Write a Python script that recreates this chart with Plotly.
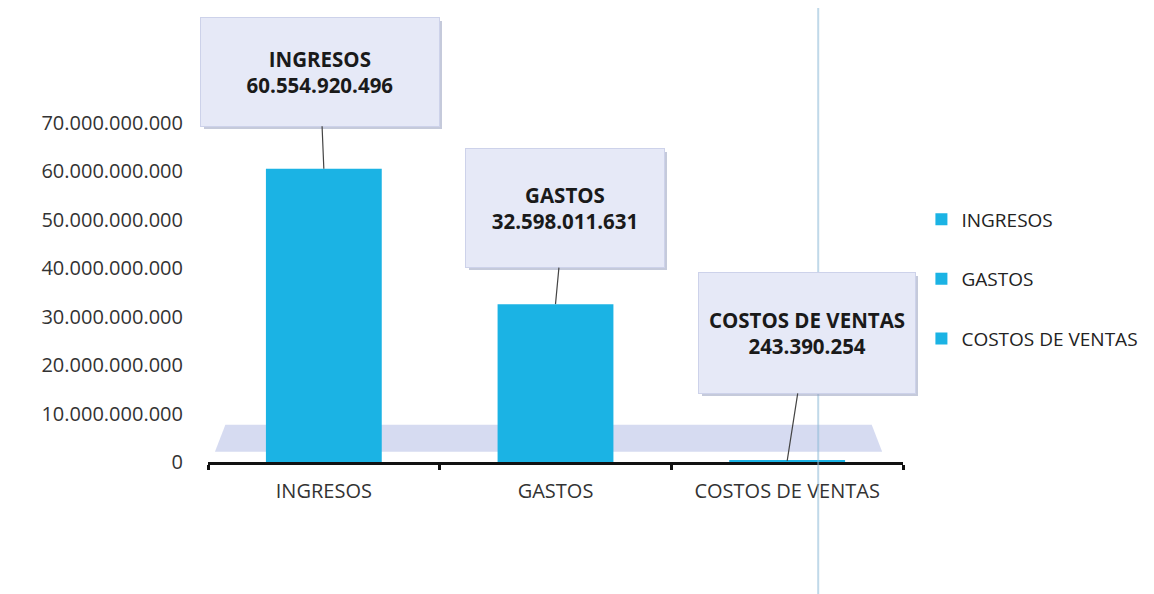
import plotly.graph_objects as go

categories = ["INGRESOS", "GASTOS", "COSTOS DE VENTAS"]
values = [60554920496, 32598011631, 243390254]
value_labels = ["60.554.920.496", "32.598.011.631", "243.390.254"]
y_ticks = [0, 10e9, 20e9, 30e9, 40e9, 50e9, 60e9, 70e9]

BAR = "#1BB3E4"
FONT = "Open Sans"

fig = go.Figure()
for i, (c, v) in enumerate(zip(categories, values)):
    fig.add_trace(go.Bar(
        x=[c], y=[v], name=c, marker=dict(color=BAR, line=dict(width=0)),
        width=0.5, legendgroup=c, showlegend=True, hoverinfo="x+y",
    ))

# callout annotations (style offsets only)
callout_style = [
    dict(ax=-4, ay=-97, width=236, height=106),
    dict(ax=9, ay=-96, width=196, height=116),
    dict(ax=20, ay=-128, width=214, height=118),
]
for c, v, lab, st in zip(categories, values, value_labels, callout_style):
    # shadow
    fig.add_annotation(
        x=c, y=v, xref="x", yref="y", text="",
        showarrow=True, arrowhead=0, arrowcolor="rgba(0,0,0,0)",
        ax=st["ax"], ay=st["ay"], width=st["width"], height=st["height"],
        xshift=3, yshift=-3, bgcolor="rgba(150,158,190,0.55)", borderwidth=0,
    )
    fig.add_annotation(
        x=c, y=v, xref="x", yref="y",
        text=f"<b>{c}</b><br><b>{lab}</b>",
        showarrow=True, arrowhead=0, arrowwidth=1.2, arrowcolor="#444",
        ax=st["ax"], ay=st["ay"], width=st["width"], height=st["height"],
        bgcolor="rgba(230,233,247,1)", bordercolor="#cdd2ea", borderwidth=1,
        font=dict(family=FONT, size=20.5, color="#1a1a1a"), align="center",
    )

shapes = [
    # floor plane
    dict(type="path", xref="paper", yref="paper",
         path="M 0.01,0.03 L 0.025,0.11 L 0.955,0.11 L 0.97,0.03 Z",
         fillcolor="rgba(200,207,236,0.75)", line=dict(width=0), layer="below"),
    # scan line artifact
    dict(type="line", xref="paper", yref="paper", x0=0.878, x1=0.878, y0=-0.45, y1=1.4,
         line=dict(color="rgba(140,185,215,0.55)", width=2), layer="above"),
]

fig.update_layout(
    width=1146, height=586,
    margin=dict(l=200, r=251, t=115, b=132, autoexpand=False),
    paper_bgcolor="white", plot_bgcolor="rgba(0,0,0,0)",
    barmode="overlay", separators=",.",
    font=dict(family=FONT, size=20, color="#333"),
    shapes=shapes,
    legend=dict(x=1.0265, y=0.772, xanchor="left", yanchor="top",
                font=dict(family=FONT, size=19, color="#222"),
                tracegroupgap=32, bgcolor="rgba(0,0,0,0)"),
    showlegend=True,
)
fig.update_yaxes(range=[0, 70e9], tickvals=y_ticks, tickformat=",d",
                 showgrid=False, zeroline=False, showline=False,
                 ticks="outside", ticklen=20, tickcolor="rgba(0,0,0,0)",
                 tickfont=dict(family=FONT, size=20, color="#333"))
fig.update_xaxes(range=[-0.5, 2.5], showline=True, linecolor="#111", linewidth=3,
                 ticks="outside", tickson="boundaries", ticklen=5, tickwidth=3,
                 tickcolor="#111", showgrid=False, ticklabelstandoff=9,
                 tickfont=dict(family=FONT, size=20, color="#333"))

fig.write_html("out.html")
